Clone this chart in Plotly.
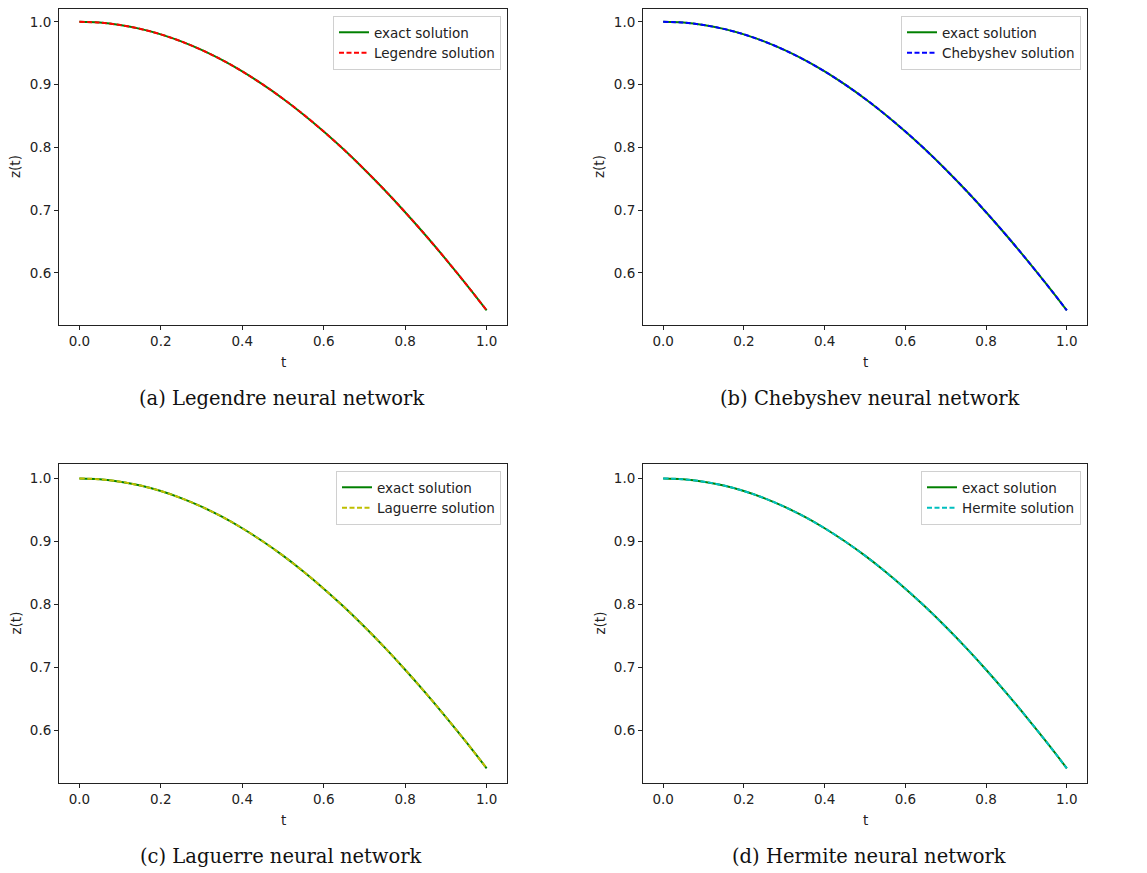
import plotly.graph_objects as go

# ---- data ----
t_vals = [0.0, 0.05, 0.1, 0.15, 0.2, 0.25, 0.3, 0.35, 0.4, 0.45, 0.5,
          0.55, 0.6, 0.65, 0.7, 0.75, 0.8, 0.85, 0.9, 0.95, 1.0]
exact_vals = [1.0000, 0.9988, 0.9950, 0.9888, 0.9801, 0.9689, 0.9553, 0.9394, 0.9211, 0.9004,
              0.8776, 0.8525, 0.8253, 0.7961, 0.7648, 0.7317, 0.6967, 0.6600, 0.6216, 0.5817,
              0.5403]
legendre_vals = [1.0000, 0.9988, 0.9950, 0.9888, 0.9801, 0.9689, 0.9553, 0.9394, 0.9211, 0.9004,
                 0.8776, 0.8525, 0.8253, 0.7961, 0.7648, 0.7317, 0.6967, 0.6600, 0.6216, 0.5817,
                 0.5403]
chebyshev_vals = [1.0000, 0.9988, 0.9950, 0.9888, 0.9801, 0.9689, 0.9553, 0.9394, 0.9211, 0.9004,
                  0.8776, 0.8525, 0.8253, 0.7961, 0.7648, 0.7317, 0.6967, 0.6600, 0.6216, 0.5817,
                  0.5403]
laguerre_vals = [1.0000, 0.9988, 0.9950, 0.9888, 0.9801, 0.9689, 0.9553, 0.9394, 0.9211, 0.9004,
                 0.8776, 0.8525, 0.8253, 0.7961, 0.7648, 0.7317, 0.6967, 0.6600, 0.6216, 0.5817,
                 0.5403]
hermite_vals = [1.0000, 0.9988, 0.9950, 0.9888, 0.9801, 0.9689, 0.9553, 0.9394, 0.9211, 0.9004,
                0.8776, 0.8525, 0.8253, 0.7961, 0.7648, 0.7317, 0.6967, 0.6600, 0.6216, 0.5817,
                0.5403]

method_names = ["Legendre", "Chebyshev", "Laguerre", "Hermite"]
method_vals = [legendre_vals, chebyshev_vals, laguerre_vals, hermite_vals]
method_colors = ["#ff0000", "#0000ff", "#bfbf00", "#00bfbf"]
captions = ["(a) Legendre neural network", "(b) Chebyshev neural network",
            "(c) Laguerre neural network", "(d) Hermite neural network"]
x_ticks = [0.0, 0.2, 0.4, 0.6, 0.8, 1.0]
y_ticks = [0.6, 0.7, 0.8, 0.9, 1.0]

# the page body has an 8px margin; figure is placed at (8, 8)
OFF = 8
W, H = 1147 - OFF, 873 - OFF
# panel pixel boxes in page coordinates: (left, right, top, bottom)
boxes = [(59, 507, 9, 325), (643, 1087, 9, 325),
         (59, 507, 464, 783), (643, 1087, 464, 783)]


def px(x):
    return (x - OFF) / W


def py(y):
    return 1 - (y - OFF) / H


fig = go.Figure()
annotations = []
tick_font = dict(family="DejaVu Sans", size=13.5, color="#222222")

for i in range(4):
    n = "" if i == 0 else str(i + 1)
    L, R, T, B = boxes[i]
    xdom = [px(L), px(R)]
    ydom = [max(0, py(B)), min(1, py(T))]
    legname = "legend" + n
    fig.add_trace(go.Scatter(x=t_vals, y=exact_vals, mode="lines", name="exact solution",
                             line=dict(color="#008000", width=2, shape="spline"),
                             xaxis="x" + n, yaxis="y" + n, legend=legname))
    fig.add_trace(go.Scatter(x=t_vals, y=method_vals[i], mode="lines",
                             name=method_names[i] + " solution",
                             line=dict(color=method_colors[i], width=2, dash="5px,2.5px",
                                       shape="spline"),
                             xaxis="x" + n, yaxis="y" + n, legend=legname))
    axcommon = dict(showgrid=False, zeroline=False, showline=True, linecolor="#222222",
                    linewidth=1, mirror=True, ticks="outside", ticklen=4, tickwidth=1,
                    tickcolor="#222222", tickfont=tick_font)
    yr = [0.517, 1.023] if i >= 2 else [0.517, 1.0205]
    fig.update_layout({
        "xaxis" + n: dict(domain=xdom, range=[-0.05, 1.05], tickvals=x_ticks,
                          ticktext=["%.1f" % v for v in x_ticks],
                          anchor="y" + n, **axcommon),
        "yaxis" + n: dict(domain=ydom, range=yr, tickvals=y_ticks,
                          ticktext=["%.1f" % v for v in y_ticks],
                          anchor="x" + n, **axcommon),
        legname: dict(x=px(R - 6), y=py(T + 7), xanchor="right", yanchor="top",
                      bgcolor="rgba(255,255,255,0.8)", bordercolor="#d0d0d0", borderwidth=1,
                      font=dict(family="DejaVu Sans", size=13.5, color="#222222"),
                      tracegroupgap=0, itemwidth=30),
    })
    # axis titles
    annotations.append(dict(text="t", x=px((L + R) / 2), y=py(B + 37),
                            xref="paper", yref="paper", showarrow=False,
                            font=dict(family="DejaVu Sans", size=13.5, color="#222222"),
                            xanchor="center", yanchor="middle"))
    annotations.append(dict(text="z(t)", x=px(L - 44), y=py((T + B) / 2),
                            xref="paper", yref="paper", showarrow=False, textangle=-90,
                            font=dict(family="DejaVu Sans", size=13.5, color="#222222"),
                            xanchor="center", yanchor="middle"))
    # caption
    cx = (L + R) / 2 + (4 if i % 2 else -2)
    annotations.append(dict(text=captions[i], x=px(cx), y=py(B + 73),
                            xref="paper", yref="paper", showarrow=False,
                            font=dict(family="DejaVu Serif", size=19.5, color="#111111"),
                            xanchor="center", yanchor="middle"))

fig.update_layout(width=W, height=H, margin=dict(l=0, r=0, t=0, b=0),
                  paper_bgcolor="white", plot_bgcolor="white",
                  annotations=annotations, showlegend=True)

fig.write_html("out.html")
